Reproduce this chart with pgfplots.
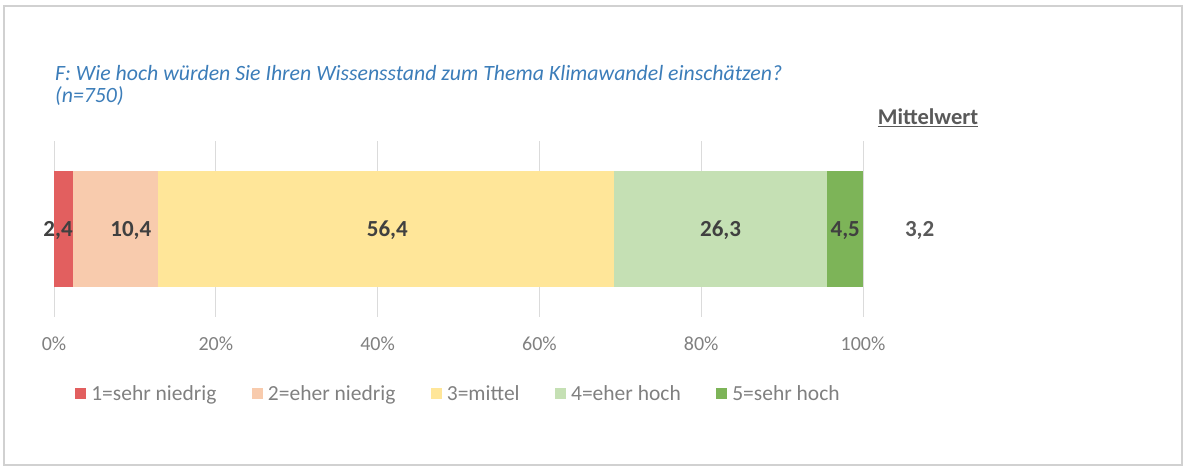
\documentclass[border=0pt]{standalone}
\usepackage{pgfplots}
\pgfplotsset{compat=1.18}
\usepackage{fontspec}
\setmainfont{Carlito}
\definecolor{c1}{RGB}{226,95,95}
\definecolor{c2}{RGB}{248,203,173}
\definecolor{c3}{RGB}{255,230,153}
\definecolor{c4}{RGB}{197,224,180}
\definecolor{c5}{RGB}{125,180,88}
\definecolor{titleblue}{RGB}{60,125,185}
\definecolor{lbl}{RGB}{64,64,64}
\definecolor{lbl2}{RGB}{89,89,89}
\definecolor{tick}{RGB}{128,128,128}
\pgfplotsset{sqleg/.style={legend image code/.code={\fill[##1] (0pt,-5.5pt) rectangle (11pt,5.5pt); \path (14pt,0pt);}}}
\begin{document}
\begin{tikzpicture}[x=1pt,y=1pt]
\path[use as bounding box] (0,0) rectangle (1185,468);
\draw[draw=black!18, line width=1.5pt] (4,3) rectangle (1182,462);
\node[anchor=base west, font=\fontsize{21.8}{26}\selectfont\itshape, text=titleblue, inner sep=0] at (55,387) {F: Wie hoch würden Sie Ihren Wissensstand zum Thema Klimawandel einschätzen?};
\node[anchor=base west, font=\fontsize{21.8}{26}\selectfont\itshape, text=titleblue, inner sep=0] at (55,365) {(n=750)};
\node[anchor=base, font=\fontsize{22.5}{26}\selectfont\bfseries, text=lbl2, inner sep=0] at (928,343) {\underline{Mittelwert}};
\begin{axis}[at={(54pt,151pt)}, anchor=south west, scale only axis,
  width=809pt, height=176pt, xmin=0, xmax=100, ymin=-1, ymax=1,
  xbar stacked, bar width=116pt,
  axis line style={draw=none},
  xtick={0,20,40,60,80,100},
  xticklabels={0\%,20\%,40\%,60\%,80\%,100\%},
  ytick=\empty, xmajorgrids, grid style={draw=black!14, line width=0.8pt},
  major tick length=0pt,
  xticklabel style={font=\fontsize{20}{24}\selectfont, text=tick, yshift=-16pt},
  legend style={at={(0.5,-0.4375)}, anchor=center, draw=none, fill=none,
    legend columns=5, font=\fontsize{21.5}{25}\selectfont, text=tick,
    /tikz/every even column/.append style={column sep=33.5pt}},
  ]
\addplot[fill=c1, draw=none, sqleg] coordinates {(2.4,0)};
\addplot[fill=c2, draw=none, sqleg] coordinates {(10.4,0)};
\addplot[fill=c3, draw=none, sqleg] coordinates {(56.4,0)};
\addplot[fill=c4, draw=none, sqleg] coordinates {(26.3,0)};
\addplot[fill=c5, draw=none, sqleg] coordinates {(4.5,0)};
\legend{1=sehr niedrig, 2=eher niedrig, 3=mittel, 4=eher hoch, 5=sehr hoch}
\end{axis}
\begin{axis}[at={(54pt,151pt)}, anchor=south west, scale only axis,
  width=809pt, height=176pt, xmin=0, xmax=100, ymin=-1, ymax=1,
  hide axis, clip=false,
  nodes near coords, point meta=explicit symbolic,
  nodes near coords style={anchor=base, yshift=-8pt, inner sep=0pt,
    font=\fontsize{23}{27}\selectfont\bfseries, text=lbl}]
\addplot[draw=none, mark=none] coordinates {(0.5,0) [2{,}4] (9.5,0) [10{,}4] (41.2,0) [56{,}4] (82.4,0) [26{,}3] (97.8,0) [4{,}5]};
\addplot[draw=none, mark=none, nodes near coords style={text=lbl2}] coordinates {(107,0) [3{,}2]};
\end{axis}
\end{tikzpicture}
\end{document}
